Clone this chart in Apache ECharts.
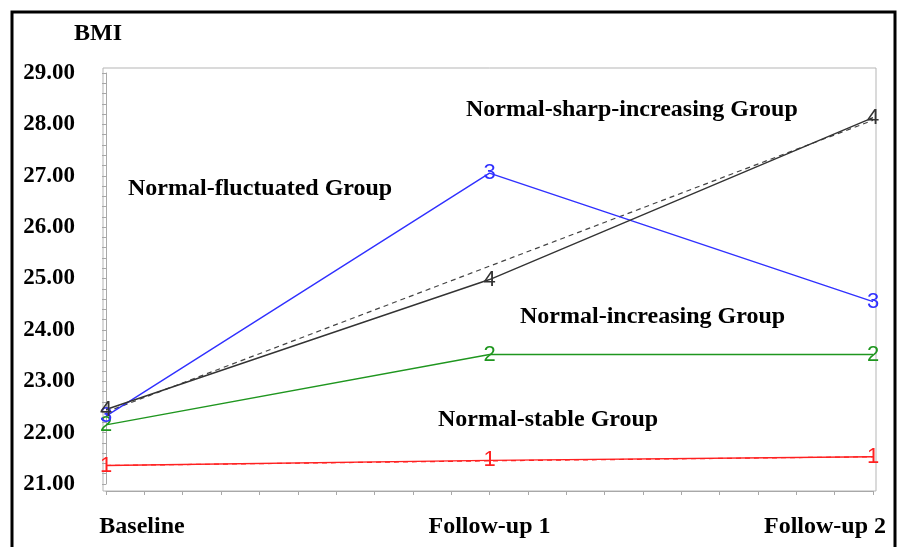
<!DOCTYPE html>
<html>
<head>
<meta charset="utf-8">
<script src="https://cdn.jsdelivr.net/npm/echarts@6/dist/echarts.min.js"></script>
<style>
html,body{margin:0;padding:0;background:#fff;}
#chart{width:899px;height:547px;}
</style>
</head>
<body>
<div id="chart"></div>
<script>
// ---- data ----
var categories = ['Baseline', 'Follow-up 1', 'Follow-up 2'];
var yTicks = [21, 22, 23, 24, 25, 26, 27, 28, 29];
var groupIds = ['1', '2', '3', '4'];
var groupNames = ['Normal-stable Group', 'Normal-increasing Group', 'Normal-fluctuated Group', 'Normal-sharp-increasing Group'];
var stable = [21.36, 21.46, 21.53];
var increasing = [22.15, 23.52, 23.52];
var fluctuated = [22.32, 27.05, 24.55];
var sharpIncreasing = [22.45, 24.98, 28.13];
var stableFit = [21.36, 21.45, 21.53];
var sharpIncreasingFit = [22.40, 25.24, 28.08];
var yTitle = 'BMI';

// ---- styles ----
var colors = ['#ff2020', '#1f961f', '#3030ff', '#333333'];
var serif = '"Liberation Serif","Times New Roman",serif';

function pts(arr) { return arr.map(function (v, i) { return [i, v]; }); }

var solidSets = [stable, increasing, fluctuated, sharpIncreasing];
var series = [];
solidSets.forEach(function (arr, g) {
  series.push({
    type: 'line', name: groupNames[g], data: pts(arr),
    symbol: 'circle', symbolSize: 1, z: 3,
    itemStyle: { color: 'rgba(0,0,0,0)' },
    lineStyle: { color: colors[g], width: 1.4 },
    label: { show: true, position: 'inside', formatter: groupIds[g],
      color: colors[g], fontFamily: '"Liberation Sans",sans-serif', fontSize: 22 },
    emphasis: { disabled: true }, animation: false
  });
});
series.push({
  type: 'line', data: pts(stableFit), symbol: 'none', z: 2,
  lineStyle: { color: colors[0], width: 1.2, type: [5, 4] }, animation: false
});
series.push({
  type: 'line', data: pts(sharpIncreasingFit), symbol: 'none', z: 2,
  lineStyle: { color: '#444', width: 1.2, type: [5, 4] }, animation: false
});

// annotation placements (label positions only)
var notePos = [[438, 420], [520, 317], [128, 189], [466, 110]];
var graphics = [{
  type: 'rect', shape: { x: 12, y: 12, width: 883, height: 570 },
  style: { fill: 'none', stroke: '#000', lineWidth: 3 }, silent: true
}, {
  type: 'text', x: 74, y: 34,
  style: { text: yTitle, font: 'bold 24px ' + serif, fill: '#000', verticalAlign: 'middle' }
}];
groupNames.forEach(function (n, i) {
  graphics.push({ type: 'text', x: notePos[i][0], y: notePos[i][1],
    style: { text: n, font: 'bold 24px ' + serif, fill: '#000', verticalAlign: 'middle' } });
});

var chart = echarts.init(document.getElementById('chart'), null, { renderer: 'canvas' });
chart.setOption({
  backgroundColor: '#fff',
  animation: false,
  grid: [
    { left: 106, right: 26, top: 73, bottom: 63 },
    { left: 103, right: 23, top: 68, bottom: 56, show: true, borderColor: '#b5b5b5', borderWidth: 1, backgroundColor: 'transparent', z: 0 }
  ],
  xAxis: [{
    type: 'value', gridIndex: 0, min: 0, max: categories.length - 1, interval: 1, offset: 7,
    axisLine: { show: true, lineStyle: { color: '#a8a8a8', width: 1 } },
    axisTick: { show: true, length: 4, lineStyle: { color: '#a8a8a8' } },
    minorTick: { show: true, splitNumber: 10, length: 4, lineStyle: { color: '#a8a8a8' } },
    splitLine: { show: false },
    axisLabel: {
      margin: 24,
      formatter: function (v) {
        var i = Math.round(v);
        if (i === 0) return '{a|' + categories[i] + '}';
        if (i === categories.length - 1) return '{c|' + categories[i] + '}';
        return '{b|' + categories[i] + '}';
      },
      rich: {
        a: { fontFamily: serif, fontWeight: 'bold', fontSize: 24, color: '#000', padding: [0, 0, 0, 72] },
        b: { fontFamily: serif, fontWeight: 'bold', fontSize: 24, color: '#000' },
        c: { fontFamily: serif, fontWeight: 'bold', fontSize: 24, color: '#000', padding: [0, 96, 0, 0] }
      }
    }
  }, {
    type: 'value', gridIndex: 1, show: false
  }],
  yAxis: [{
    type: 'value', gridIndex: 0, min: yTicks[0], max: yTicks[yTicks.length - 1], interval: 1, offset: 3,
    axisLine: { show: true, lineStyle: { color: '#a8a8a8', width: 1 } },
    axisTick: { show: true, length: 4, lineStyle: { color: '#a8a8a8' } },
    minorTick: { show: true, splitNumber: 5, length: 4, lineStyle: { color: '#a8a8a8' } },
    splitLine: { show: false },
    axisLabel: {
      margin: 28, color: '#000', fontFamily: serif, fontWeight: 'bold', fontSize: 23,
      formatter: function (v) { return v.toFixed(2); }
    }
  }, {
    type: 'value', gridIndex: 1, show: false
  }],
  graphic: graphics,
  series: series
});
</script>
</body>
</html>
